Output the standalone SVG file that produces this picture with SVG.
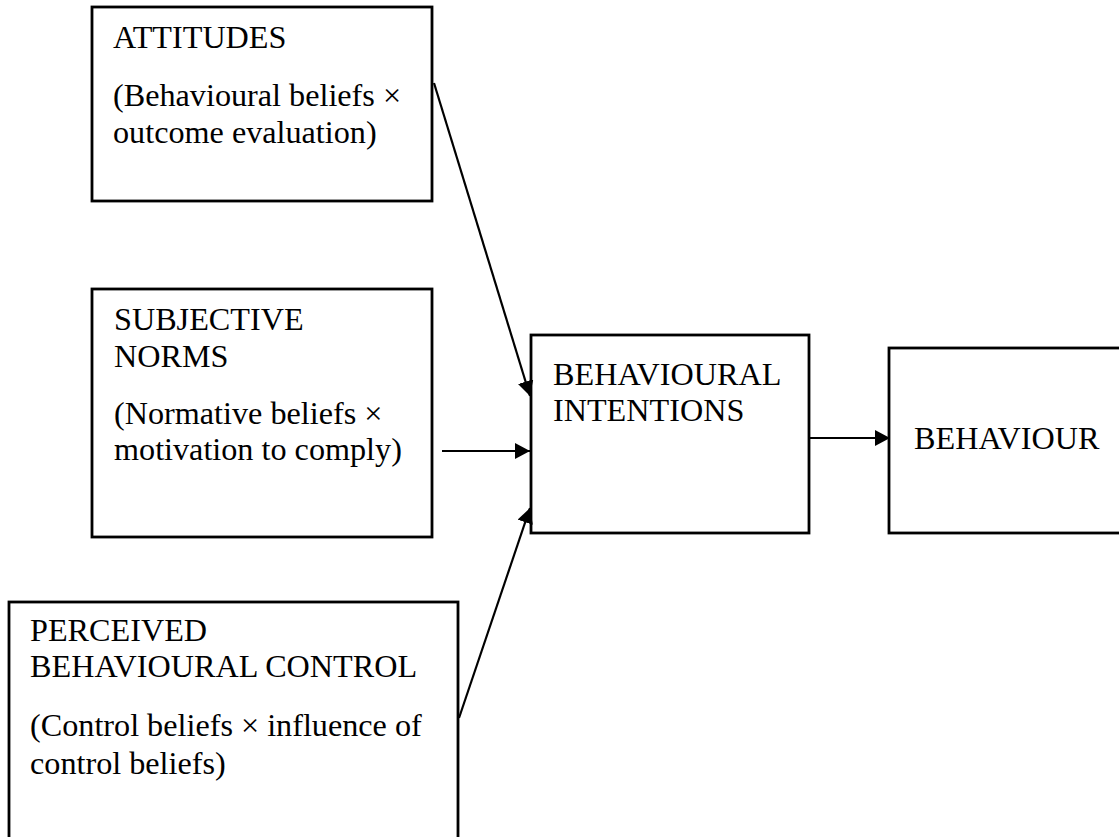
<svg xmlns="http://www.w3.org/2000/svg" width="1119" height="837" viewBox="0 0 1119 837">
<style>
.box{fill:#fff;stroke:#000;stroke-width:2.8}
.t{font-family:"Liberation Serif","Times New Roman",serif;font-size:32.2px;fill:#000}
.c{stroke:#000;stroke-width:2.2;fill:none}
</style>
<defs>
<marker id="ah" viewBox="0 0 15 16" refX="15" refY="8" markerWidth="15" markerHeight="16" markerUnits="userSpaceOnUse" orient="auto">
<path d="M0,0 L15,8 L0,16 Z" fill="#000"/>
</marker>
</defs>
<rect width="1119" height="837" fill="#fff"/>
<g id="attitudes">
<rect class="box" x="92" y="7" width="340" height="194"/>
<text class="t" x="113" y="48">ATTITUDES</text>
<text class="t" x="113" y="106">(Behavioural beliefs ×</text>
<text class="t" x="113" y="142.5">outcome evaluation)</text>
</g>
<g id="subjective-norms">
<rect class="box" x="92" y="289" width="340" height="248"/>
<text class="t" x="114" y="330">SUBJECTIVE</text>
<text class="t" x="114" y="366.5">NORMS</text>
<text class="t" x="114" y="423.5">(Normative beliefs ×</text>
<text class="t" x="114" y="460">motivation to comply)</text>
</g>
<g id="perceived-control">
<rect class="box" x="9" y="602" width="449" height="260"/>
<text class="t" x="30" y="641">PERCEIVED</text>
<text class="t" x="30" y="677">BEHAVIOURAL CONTROL</text>
<text class="t" x="30" y="736">(Control beliefs × influence of</text>
<text class="t" x="30" y="773.5">control beliefs)</text>
</g>
<g id="intentions">
<rect class="box" x="531" y="335" width="278" height="198"/>
<text class="t" x="553" y="385">BEHAVIOURAL</text>
<text class="t" x="553" y="421">INTENTIONS</text>
</g>
<g id="behaviour">
<rect class="box" x="889" y="348" width="240" height="185"/>
<text class="t" x="914" y="449">BEHAVIOUR</text>
</g>
<g id="connectors">
<line class="c" x1="434" y1="83" x2="530" y2="396" marker-end="url(#ah)"/>
<line class="c" x1="442" y1="451" x2="530" y2="451" marker-end="url(#ah)"/>
<line class="c" x1="459" y1="718" x2="530" y2="508" marker-end="url(#ah)"/>
<line class="c" x1="810" y1="438" x2="890" y2="438" marker-end="url(#ah)"/>
</g>
</svg>
